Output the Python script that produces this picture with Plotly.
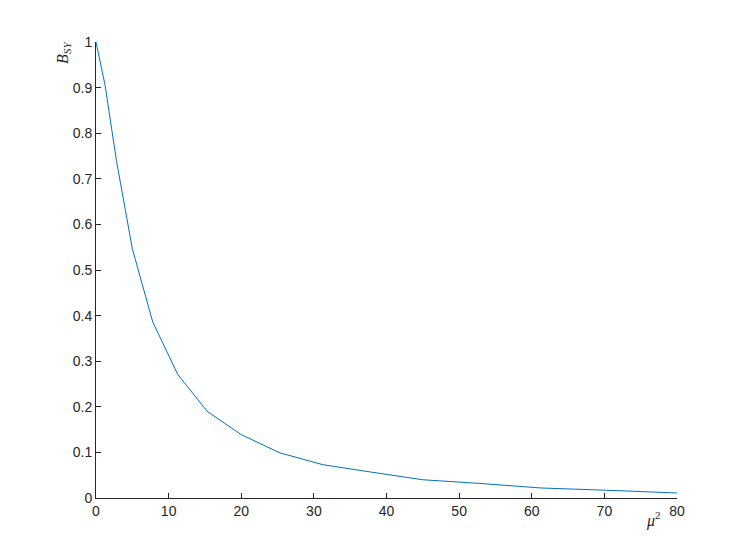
import plotly.graph_objects as go

# mu^2 values and the corresponding B_SY
mu_sq = [0, 0.3125, 1.25, 2.8125, 5, 7.8125, 11.25, 15.3125, 20, 25.3125,
         31.25, 37.8125, 45, 52.8125, 61.25, 70.3125, 80]
b_sy = [1.0, 0.975, 0.905, 0.74, 0.547, 0.386, 0.271, 0.190, 0.139, 0.099,
        0.073, 0.057, 0.040, 0.032, 0.022, 0.017, 0.011]

x_ticks = [0, 10, 20, 30, 40, 50, 60, 70, 80]
y_ticks = [0, 0.1, 0.2, 0.3, 0.4, 0.5, 0.6, 0.7, 0.8, 0.9, 1]
y_tick_text = ['0', '0.1', '0.2', '0.3', '0.4', '0.5', '0.6', '0.7', '0.8', '0.9', '1']

axis_color = '#262626'
tick_font = dict(family='Liberation Sans, Arial, sans-serif', size=14, color=axis_color)

# page body has an 8px margin, so the figure is a bit smaller than the window
fig = go.Figure(
    data=[go.Scatter(x=mu_sq, y=b_sy, mode='lines',
                     line=dict(color='#0072BD', width=1), hoverinfo='none')],
    layout=go.Layout(
        width=739, height=552,
        margin=dict(l=88, r=70, t=34, b=62),
        plot_bgcolor='#FFFFFF', paper_bgcolor='#FFFFFF',
        showlegend=False,
        xaxis=dict(range=[0, 80], tickvals=x_ticks, ticks='inside', ticklen=5,
                   tickcolor=axis_color, showline=True, linecolor=axis_color,
                   linewidth=1, showgrid=False, zeroline=False,
                   tickfont=tick_font),
        yaxis=dict(range=[0, 1], tickvals=y_ticks, ticktext=y_tick_text,
                   ticks='inside', ticklen=5, tickcolor=axis_color,
                   showline=True, linecolor=axis_color, linewidth=1,
                   showgrid=False, zeroline=False, tickfont=tick_font),
        annotations=[
            dict(text='<i>B</i><sub><i>SY</i></sub>', xref='paper', yref='paper',
                 x=-0.057, y=0.978, xanchor='center', yanchor='middle',
                 textangle=-90, showarrow=False,
                 font=dict(family='Liberation Serif, serif', size=16, color=axis_color)),
            dict(text='<i>μ</i><sup>2</sup>', xref='paper', yref='paper',
                 x=0.96, y=-0.02, xanchor='center', yanchor='top',
                 showarrow=False,
                 font=dict(family='Liberation Serif, serif', size=16, color=axis_color)),
        ],
    ))

fig.write_html("out.html")
